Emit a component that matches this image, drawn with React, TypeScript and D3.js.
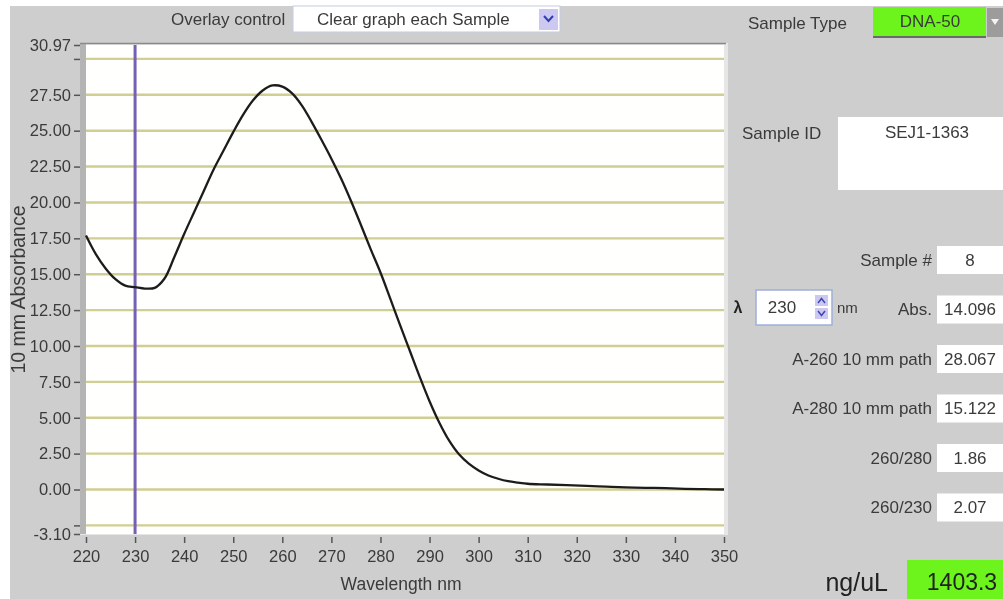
import { useRef, useEffect } from 'react';
import * as d3 from 'd3';

// spectrum, every 2 nm then every 4 nm in the flat tail
const wavelengths = [
  220, 222, 224, 226, 228, 230, 232, 234, 236, 238, 240, 242, 244, 246, 248,
  250, 252, 254, 256, 258, 260, 262, 264, 266, 268, 270, 272, 274, 276, 278,
  280, 282, 284, 286, 288, 290, 292, 294, 296, 298, 300, 302, 304, 306, 308,
  310, 314, 318, 322, 326, 330, 334, 338, 342, 346, 350,
];
const absorbance = [
  17.7, 16.4, 15.4, 14.65, 14.2, 14.1, 14.0, 14.05, 14.7, 16.2, 17.8, 19.3,
  20.8, 22.3, 23.6, 24.9, 26.1, 27.1, 27.8, 28.15, 28.07, 27.6, 26.75, 25.6,
  24.35, 23.05, 21.65, 20.1, 18.45, 16.75, 15.12, 13.3, 11.45, 9.65, 7.85,
  6.15, 4.65, 3.4, 2.45, 1.8, 1.33, 0.98, 0.75, 0.58, 0.48, 0.4, 0.35, 0.3,
  0.26, 0.2, 0.15, 0.12, 0.09, 0.05, 0.02, 0.0,
];

const xTicks = [220, 230, 240, 250, 260, 270, 280, 290, 300, 310, 320, 330, 340, 350];
const yTicks = [-3.1, -2.5, 0, 2.5, 5, 7.5, 10, 12.5, 15, 17.5, 20, 22.5, 25, 27.5, 30, 30.97];
const yTickLabels = ['-3.10', '', '0.00', '2.50', '5.00', '7.50', '10.00', '12.50', '15.00', '17.50', '20.00', '22.50', '25.00', '27.50', '', '30.97'];
const gridValues = [-2.5, 0, 2.5, 5, 7.5, 10, 12.5, 15, 17.5, 20, 22.5, 25, 27.5, 30];
const cursorWavelength = 230;

const readoutLabels = ['Sample #', 'Abs.', 'A-260 10 mm path', 'A-280 10 mm path', '260/280', '260/230'];
const readoutValues = ['8', '14.096', '28.067', '15.122', '1.86', '2.07'];

const sampleType = 'DNA-50';
const sampleId = 'SEJ1-1363';
const overlayOption = 'Clear graph each Sample';
const concentration = '1403.3';

const W = 1003;
const H = 599;
const FONT = '"Liberation Sans", Arial, sans-serif';
const TXT = '#3a3a3a';

const App = () => {
  const ref = useRef<SVGSVGElement | null>(null);

  useEffect(() => {
    const svg = d3.select(ref.current);
    svg.selectAll('*').remove();

    const defs = svg.append('defs');
    defs
      .append('filter')
      .attr('id', 'soft')
      .append('feGaussianBlur')
      .attr('stdDeviation', 0.45);

    const root = svg.append('g').attr('filter', 'url(#soft)');

    // window background
    root.append('rect').attr('width', W).attr('height', H).attr('fill', '#fff');
    root.append('rect').attr('x', 10).attr('y', 6).attr('width', W - 10).attr('height', H - 6).attr('fill', '#cecece');

    const left = 86;
    const right = 724;
    const top = 45;
    const bottom = 534;

    const x = d3.scaleLinear().domain([220, 350]).range([left, right]);
    const y = d3.scaleLinear().domain([-3.1, 30.97]).range([bottom, top]);

    // plot frame
    root.append('rect').attr('x', left - 6).attr('y', top - 2).attr('width', right - left + 10).attr('height', bottom - top + 3).attr('fill', '#e6e6e6');
    root.append('rect').attr('x', left - 6).attr('y', top - 2).attr('width', 6).attr('height', bottom - top + 2).attr('fill', '#b4b4b4');
    root.append('line').attr('x1', left - 6).attr('x2', right + 2).attr('y1', top - 1.5).attr('y2', top - 1.5).attr('stroke', '#8a8a8a').attr('stroke-width', 1.5);
    root.append('rect').attr('x', left).attr('y', top).attr('width', right - left).attr('height', bottom - top).attr('fill', '#fffffd');

    root
      .append('g')
      .selectAll('line')
      .data(gridValues)
      .enter()
      .append('line')
      .attr('x1', left)
      .attr('x2', right)
      .attr('y1', d => y(d))
      .attr('y2', d => y(d))
      .attr('stroke', '#d0ce92')
      .attr('stroke-width', 2.4);

    // cursor
    root
      .append('line')
      .attr('x1', x(cursorWavelength))
      .attr('x2', x(cursorWavelength))
      .attr('y1', top)
      .attr('y2', bottom)
      .attr('stroke', '#7560b4')
      .attr('stroke-width', 3);

    const line = d3
      .line<number>()
      .x((d, i) => x(wavelengths[i]))
      .y(d => y(d))
      .curve(d3.curveCatmullRom.alpha(0.5));

    root
      .append('path')
      .datum(absorbance)
      .attr('d', line)
      .attr('fill', 'none')
      .attr('stroke', '#1e1e1e')
      .attr('stroke-width', 2.3);

    // axes
    const yAxis = d3
      .axisLeft(y)
      .tickValues(yTicks)
      .tickSize(6)
      .tickPadding(3)
      .tickFormat((d, i) => yTickLabels[i]);

    const yg = root.append('g').attr('transform', `translate(${left - 6},0)`).call(yAxis);
    yg.select('.domain').remove();
    yg.selectAll('line').attr('stroke', '#555').attr('stroke-width', 1.5);
    yg.selectAll('text').attr('fill', TXT).style('font-family', FONT).style('font-size', '16.5px');

    const xAxis = d3
      .axisBottom(x)
      .tickValues(xTicks)
      .tickSize(6)
      .tickPadding(7)
      .tickFormat(d3.format('d'));

    const xg = root.append('g').attr('transform', `translate(0,${bottom + 3})`).call(xAxis);
    xg.select('.domain').remove();
    xg.selectAll('line').attr('stroke', '#555').attr('stroke-width', 1.5);
    xg.selectAll('text').attr('fill', TXT).style('font-family', FONT).style('font-size', '16.5px');

    const text = (g, str, tx, ty, size, anchor = 'start', color = TXT, weight = 'normal') =>
      g
        .append('text')
        .attr('x', tx)
        .attr('y', ty)
        .attr('text-anchor', anchor)
        .attr('dominant-baseline', 'central')
        .style('font-family', FONT)
        .style('font-size', size + 'px')
        .style('font-weight', weight)
        .attr('fill', color)
        .text(str);

    text(root, 'Wavelength nm', (left + right) / 2 - 4, 584, 17.5, 'middle');
    text(root, '10 mm Absorbance', 0, 0, 19.5, 'middle').attr('transform', `translate(18,${(top + bottom) / 2}) rotate(-90)`);

    // overlay control
    text(root, 'Overlay control', 171, 19, 17);
    root.append('rect').attr('x', 293).attr('y', 6).attr('width', 267).attr('height', 26).attr('fill', '#fff').attr('stroke', '#c2cbe0').attr('stroke-width', 1);
    text(root, overlayOption, 317, 19, 17);
    root.append('rect').attr('x', 539).attr('y', 9).attr('width', 19).attr('height', 21).attr('fill', '#cdc8f2');
    root.append('path').attr('d', 'M544,16 L548.5,21 L553,16').attr('fill', 'none').attr('stroke', '#2f3fb0').attr('stroke-width', 2);

    // sample type
    text(root, 'Sample Type', 748, 23, 17);
    root.append('rect').attr('x', 873).attr('y', 7).attr('width', 113).attr('height', 30).attr('fill', '#6cf41c');
    root.append('line').attr('x1', 873).attr('x2', 986).attr('y1', 37).attr('y2', 37).attr('stroke', '#6a6a6a').attr('stroke-width', 2);
    text(root, sampleType, 930, 21, 17, 'middle');
    root.append('rect').attr('x', 987).attr('y', 8).attr('width', 16).attr('height', 29).attr('fill', '#9c9c9c');
    root.append('path').attr('d', 'M991,19 L999,19 L995,25 Z').attr('fill', '#f4f4f4');

    // sample id
    text(root, 'Sample ID', 742, 133, 17);
    root.append('rect').attr('x', 838).attr('y', 117).attr('width', 165).attr('height', 73).attr('fill', '#fff');
    text(root, sampleId, 927, 132, 17, 'middle');

    // readouts
    const rows = root.append('g');
    readoutLabels.forEach((lab, i) => {
      const cy = 260 + i * 49.5;
      text(rows, lab, 932, cy, 17, 'end');
      rows.append('rect').attr('x', 937).attr('y', cy - 14).attr('width', 66).attr('height', 28).attr('fill', '#fff');
      text(rows, readoutValues[i], 970, cy, 17, 'middle');
    });

    // wavelength spinner
    const sy = 307;
    text(root, 'λ', 738, sy, 16, 'middle', '#222', 'bold');
    root.append('rect').attr('x', 756).attr('y', 290).attr('width', 76).attr('height', 35).attr('fill', '#fff').attr('stroke', '#9db0d8').attr('stroke-width', 1.5);
    text(root, String(cursorWavelength), 782, sy, 17, 'middle');
    root.append('rect').attr('x', 815).attr('y', 295).attr('width', 13).attr('height', 11).attr('fill', '#cdc8f2');
    root.append('rect').attr('x', 815).attr('y', 308).attr('width', 13).attr('height', 11).attr('fill', '#cdc8f2');
    root.append('path').attr('d', 'M818,303 L821.5,298.5 L825,303').attr('fill', 'none').attr('stroke', '#3a48b0').attr('stroke-width', 1.5);
    root.append('path').attr('d', 'M818,311 L821.5,315.5 L825,311').attr('fill', 'none').attr('stroke', '#3a48b0').attr('stroke-width', 1.5);
    text(root, 'nm', 837, sy, 15);

    // concentration
    text(root, 'ng/uL', 888, 582, 25, 'end', '#222');
    root.append('rect').attr('x', 907).attr('y', 560).attr('width', 96).attr('height', 39).attr('fill', '#6cf41c');
    text(root, concentration, 962, 582, 23, 'middle', '#222');
  }, []);

  return (
    <svg
      ref={ref}
      width={W}
      height={H}
      style={{ position: 'absolute', left: 0, top: 0, display: 'block' }}
    />
  );
};

export default App;
